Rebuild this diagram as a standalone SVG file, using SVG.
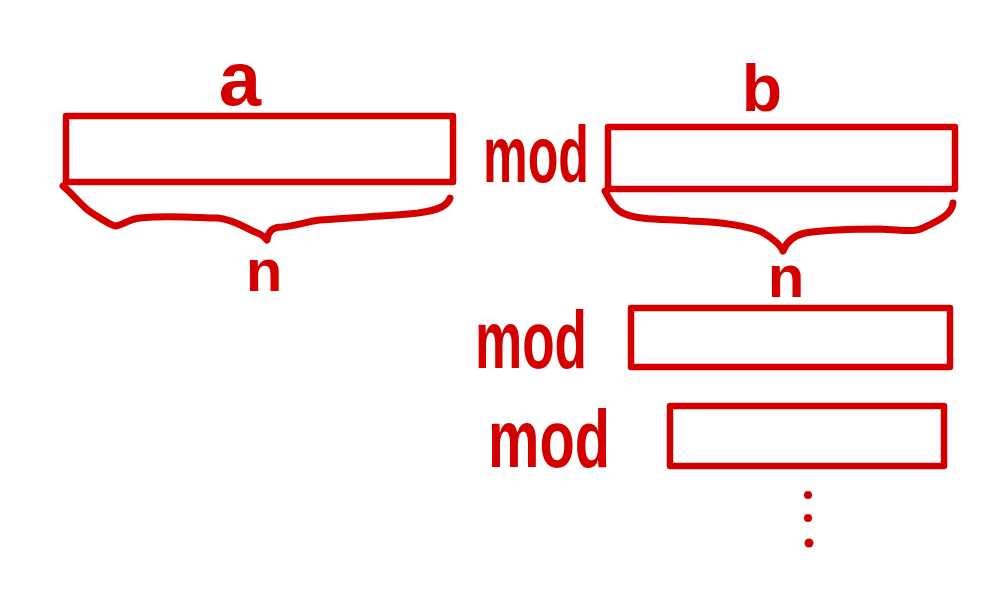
<svg xmlns="http://www.w3.org/2000/svg" width="998" height="594" viewBox="0 0 998 594">
<style>
.box{fill:none;stroke:#d40000;stroke-width:6.5;stroke-linejoin:round}
.brace{fill:none;stroke:#d40000;stroke-width:7;stroke-linecap:round;stroke-linejoin:round}
.t{fill:#d40000;font-family:"Liberation Sans","DejaVu Sans",sans-serif;font-weight:bold}
.dot{fill:#d40000}
</style>
<rect width="998" height="594" fill="#ffffff"/>
<g id="box-a">
<rect class="box" x="66" y="116" width="387" height="66"/>
<text class="t" x="240" y="105" font-size="76" text-anchor="middle">a</text>
</g>
<g id="brace-a">
<path class="brace" d="M63,186 C75,196 82,207 92,213 C100,218 108,224 115,226 C122,226 128,219 140,218 C170,215 200,218 218,218 C235,220 245,228 255,232 C262,234 265,238 267,240 C268,232 272,227 282,227 C295,226 305,222 320,220 C360,217 390,216 418,213 C440,210 448,205 450,198"/>
<text class="t" x="264" y="291" font-size="60" text-anchor="middle">n</text>
</g>
<g id="mod-1">
<text class="t" x="483" y="182" font-size="80" textLength="106" lengthAdjust="spacingAndGlyphs">mod</text>
</g>
<g id="box-b">
<rect class="box" x="608" y="127" width="347" height="62"/>
<text class="t" x="762" y="111" font-size="66" text-anchor="middle">b</text>
</g>
<g id="brace-b">
<path class="brace" d="M605,191 C610,200 614,210 625,214 C640,220 660,219 690,221 C720,222 745,225 762,232 C772,238 780,244 783,251 C786,243 792,236 805,233 C825,230 860,229 880,229 C905,230 915,233 925,227 C940,220 952,214 953,203"/>
<text class="t" x="786" y="297" font-size="60" text-anchor="middle">n</text>
</g>
<g id="mod-2">
<text class="t" x="475" y="368" font-size="82" textLength="112" lengthAdjust="spacingAndGlyphs">mod</text>
<rect class="box" x="631" y="308" width="319" height="59"/>
</g>
<g id="mod-3">
<text class="t" x="488" y="467" font-size="82" textLength="122" lengthAdjust="spacingAndGlyphs">mod</text>
<rect class="box" x="670" y="406" width="274" height="60"/>
</g>
<g id="ellipsis">
<circle class="dot" cx="808" cy="495" r="4"/>
<circle class="dot" cx="808" cy="518" r="4"/>
<circle class="dot" cx="809" cy="543" r="4.5"/>
</g>
</svg>
